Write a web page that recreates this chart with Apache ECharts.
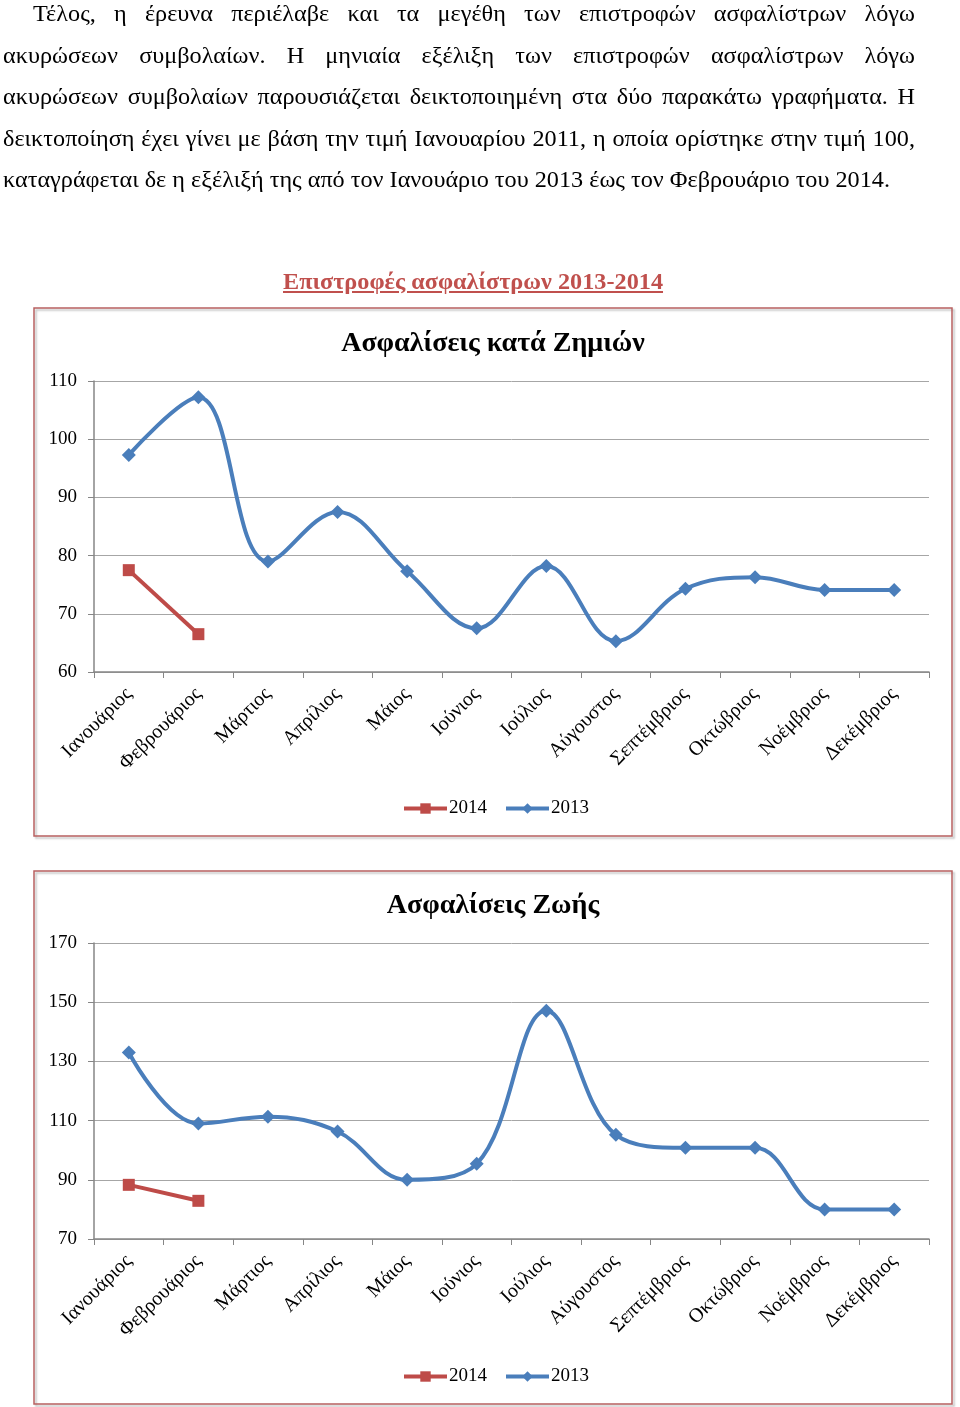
<!DOCTYPE html>
<html><head><meta charset="utf-8">
<script src="https://cdn.jsdelivr.net/npm/echarts@6/dist/echarts.min.js"></script>
<style>
html,body{margin:0;padding:0;background:#fff;width:960px;height:1407px;overflow:hidden;}
#chart{position:absolute;left:0;top:0;width:960px;height:1407px;}
#para{position:absolute;left:3px;top:-7px;font-family:"Liberation Serif","Times New Roman",serif;font-size:23px;line-height:41.5px;color:#000;transform-origin:0 0;z-index:2;}
.ln{white-space:nowrap;text-align:justify;text-align-last:justify;}
#head{position:absolute;top:268px;font-family:"Liberation Serif","Times New Roman",serif;font-weight:bold;font-size:23px;line-height:28px;color:#C0504D;text-decoration:underline;white-space:nowrap;transform-origin:0 0;z-index:2;}
</style></head>
<body>
<div id="para"></div>
<div id="head"></div>
<div id="chart"></div>
<script>
// ---- data ----
const paragraphLines = [
  "Τέλος, η έρευνα περιέλαβε και τα μεγέθη των επιστροφών ασφαλίστρων λόγω",
  "ακυρώσεων συμβολαίων. Η μηνιαία εξέλιξη των επιστροφών ασφαλίστρων λόγω",
  "ακυρώσεων συμβολαίων παρουσιάζεται δεικτοποιημένη στα δύο παρακάτω γραφήματα. Η",
  "δεικτοποίηση έχει γίνει με βάση την τιμή Ιανουαρίου 2011, η οποία ορίστηκε στην τιμή 100,",
  "καταγράφεται δε η εξέλιξή της από τον Ιανουάριο του 2013 έως τον Φεβρουάριο του 2014."
];
const headTitle = "Επιστροφές ασφαλίστρων 2013-2014";
const months = ["Ιανουάριος","Φεβρουάριος","Μάρτιος","Απρίλιος","Μάιος","Ιούνιος","Ιούλιος","Αύγουστος","Σεπτέμβριος","Οκτώβριος","Νοέμβριος","Δεκέμβριος"];
const title1 = "Ασφαλίσεις κατά Ζημιών";
const title2 = "Ασφαλίσεις Ζωής";
const damage2013 = [97.3, 107.2, 79, 87.5, 77.3, 67.5, 78.2, 65.3, 74.3, 76.3, 74.1, 74.1];
const damage2014 = [77.5, 66.5];
const life2013 = [133, 109, 111.3, 106.3, 90, 95.4, 147.1, 105.2, 100.8, 100.8, 80, 80];
const life2014 = [88.3, 82.9];
const axis1 = {min: 60, max: 110, interval: 10};
const axis2 = {min: 70, max: 170, interval: 20};

// ---- paragraph ----
const para = document.getElementById('para');
const ctx = document.createElement('canvas').getContext('2d');
ctx.font = '23px "Liberation Serif"';
const w5 = ctx.measureText(paragraphLines[4]).width;
const s = 887 / w5;
para.style.width = (912 / s) + 'px';
para.style.transform = 'scaleX(' + s + ')';
paragraphLines.forEach((t, i) => {
  const d = document.createElement('div');
  d.className = 'ln';
  d.textContent = t;
  if (i === 0) d.style.paddingLeft = (30 / s) + 'px';
  if (i === 4) d.style.textAlignLast = 'left';
  para.appendChild(d);
});
const head = document.getElementById('head');
head.textContent = headTitle;
ctx.font = 'bold 23px "Liberation Serif"';
const hw = ctx.measureText(headTitle).width;
const hs = 380 / hw;
head.style.left = '283px';
head.style.transform = 'scaleX(' + hs + ')';

// ---- chart ----
const FONT = '"Liberation Serif","Times New Roman",serif';
const BLUE = '#4A7EBB', RED = '#BE4B48', GRID = '#A6A6A6', AX = '#868686';
function xAxis(gi) {
  return {
    type: 'category', gridIndex: gi, data: months, boundaryGap: true,
    axisLine: {lineStyle: {color: AX, width: 1.5}},
    axisTick: {show: true, length: 6, alignWithLabel: false, lineStyle: {color: AX}},
    axisLabel: {rotate: 45, margin: 19, color: '#000', fontFamily: FONT, fontSize: 20, interval: 0}
  };
}
function yAxis(gi, a) {
  return {
    type: 'value', gridIndex: gi, min: a.min, max: a.max, interval: a.interval,
    axisLine: {show: true, lineStyle: {color: AX, width: 1.5}},
    axisTick: {show: true, length: 6, lineStyle: {color: AX}},
    splitLine: {lineStyle: {color: GRID, width: 1}},
    axisLabel: {margin: 17, color: '#000', fontFamily: FONT, fontSize: 19}
  };
}
function s13(xi, data) {
  return {name: '2013', type: 'line', xAxisIndex: xi, yAxisIndex: xi, data: data, smooth: 0.38,
    symbol: 'diamond', symbolSize: 14, color: BLUE, lineStyle: {width: 4, color: BLUE},
    itemStyle: {color: BLUE}, z: 3};
}
function s14(xi, data) {
  return {name: '2014', type: 'line', xAxisIndex: xi, yAxisIndex: xi, data: data, smooth: false,
    symbol: 'rect', symbolSize: 12, color: RED, lineStyle: {width: 4, color: RED},
    itemStyle: {color: RED}, z: 4};
}
function legend(top) {
  return {data: ['2014', '2013'], left: 402, top: top, padding: 0, itemWidth: 43, itemHeight: 13, itemGap: 17,
    lineStyle: {width: 4},
    textStyle: {fontFamily: FONT, fontSize: 19, color: '#000', padding: [0, 0, 0, -3]}, selectedMode: false};
}
const chart = echarts.init(document.getElementById('chart'), null, {renderer: 'canvas'});
chart.setOption({
  animation: false,
  title: [
    {text: title1, left: 488, top: 325, textAlign: 'center',
      textStyle: {fontFamily: FONT, fontSize: 28, fontWeight: 'bold', color: '#000'}},
    {text: title2, left: 488, top: 887, textAlign: 'center',
      textStyle: {fontFamily: FONT, fontSize: 28, fontWeight: 'bold', color: '#000'}}
  ],
  legend: [legend(799), legend(1367)],
  grid: [
    {left: 94, right: 31, top: 381, height: 291, containLabel: false},
    {left: 94, right: 31, top: 943, height: 296, containLabel: false}
  ],
  xAxis: [xAxis(0), xAxis(1)],
  yAxis: [yAxis(0, axis1), yAxis(1, axis2)],
  series: [s14(0, damage2014), s13(0, damage2013), s14(1, life2014), s13(1, life2013)],
  graphic: [
    {type: 'rect', shape: {x: 34, y: 308, width: 918, height: 528}, silent: true, z: -1,
      style: {fill: 'none', stroke: '#B86060', lineWidth: 1.5, shadowColor: 'rgba(0,0,0,0.25)', shadowOffsetX: 2, shadowOffsetY: 2, shadowBlur: 2}},
    {type: 'rect', shape: {x: 34, y: 871, width: 918, height: 533}, silent: true, z: -1,
      style: {fill: 'none', stroke: '#B86060', lineWidth: 1.5, shadowColor: 'rgba(0,0,0,0.25)', shadowOffsetX: 2, shadowOffsetY: 2, shadowBlur: 2}}
  ]
});
</script>
</body></html>
